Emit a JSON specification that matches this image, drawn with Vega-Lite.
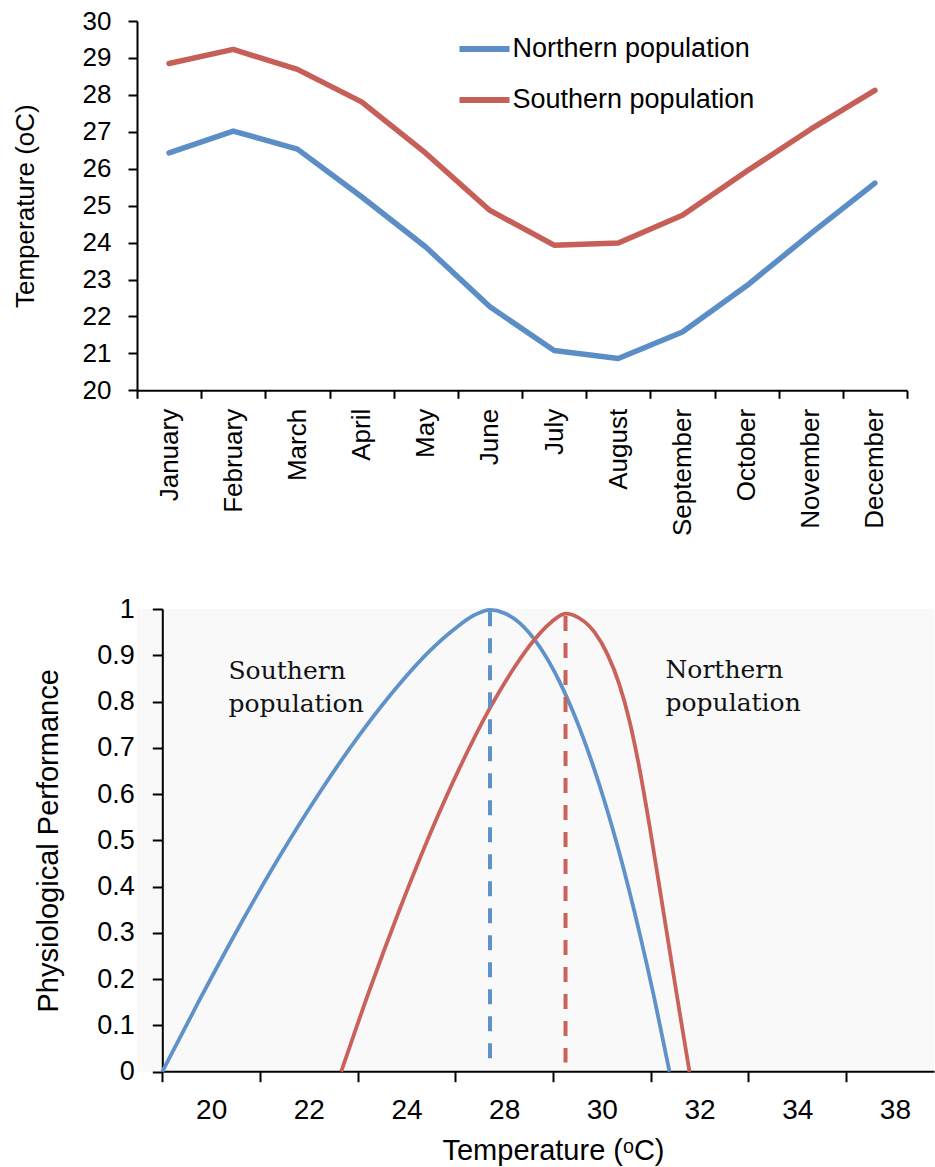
{
  "$schema": "https://vega.github.io/schema/vega-lite/v6.json",
  "padding": {"left": 12, "top": 8, "right": 0, "bottom": 0},
  "autosize": {"type": "pad"},
  "background": "white",
  "config": {
    "font": "Liberation Sans",
    "view": {"stroke": null},
    "axis": {"domainColor": "black", "tickColor": "black", "labelColor": "black", "titleColor": "black", "domainWidth": 2, "tickWidth": 2, "grid": false, "titleFontWeight": "normal"}
  },
  "datasets": {
    "monthly": [
      {"month": "January", "population": "Northern population", "temp": 26.43},
      {"month": "February", "population": "Northern population", "temp": 27.02},
      {"month": "March", "population": "Northern population", "temp": 26.53},
      {"month": "April", "population": "Northern population", "temp": 25.24},
      {"month": "May", "population": "Northern population", "temp": 23.88},
      {"month": "June", "population": "Northern population", "temp": 22.26},
      {"month": "July", "population": "Northern population", "temp": 21.08},
      {"month": "August", "population": "Northern population", "temp": 20.86},
      {"month": "September", "population": "Northern population", "temp": 21.58},
      {"month": "October", "population": "Northern population", "temp": 22.83},
      {"month": "November", "population": "Northern population", "temp": 24.24},
      {"month": "December", "population": "Northern population", "temp": 25.61},
      {"month": "January", "population": "Southern population", "temp": 28.85},
      {"month": "February", "population": "Southern population", "temp": 29.23},
      {"month": "March", "population": "Southern population", "temp": 28.69},
      {"month": "April", "population": "Southern population", "temp": 27.81},
      {"month": "May", "population": "Southern population", "temp": 26.42},
      {"month": "June", "population": "Southern population", "temp": 24.87},
      {"month": "July", "population": "Southern population", "temp": 23.93},
      {"month": "August", "population": "Southern population", "temp": 23.99},
      {"month": "September", "population": "Southern population", "temp": 24.74},
      {"month": "October", "population": "Southern population", "temp": 25.93},
      {"month": "November", "population": "Southern population", "temp": 27.07},
      {"month": "December", "population": "Southern population", "temp": 28.12}
    ],
    "curves": [
      {"curve": "Southern population", "t": 19.0, "perf": 0},
      {"curve": "Southern population", "t": 19.762, "perf": 0.155},
      {"curve": "Southern population", "t": 20.581, "perf": 0.315},
      {"curve": "Southern population", "t": 21.4, "perf": 0.465},
      {"curve": "Southern population", "t": 22.219, "perf": 0.603},
      {"curve": "Southern population", "t": 23.038, "perf": 0.728},
      {"curve": "Southern population", "t": 23.857, "perf": 0.838},
      {"curve": "Southern population", "t": 24.471, "perf": 0.909},
      {"curve": "Southern population", "t": 24.983, "perf": 0.957},
      {"curve": "Southern population", "t": 25.392, "perf": 0.987},
      {"curve": "Southern population", "t": 25.71, "perf": 0.998},
      {"curve": "Southern population", "t": 26.007, "perf": 0.991},
      {"curve": "Southern population", "t": 26.314, "perf": 0.97},
      {"curve": "Southern population", "t": 26.723, "perf": 0.919},
      {"curve": "Southern population", "t": 27.133, "perf": 0.843},
      {"curve": "Southern population", "t": 27.542, "perf": 0.743},
      {"curve": "Southern population", "t": 27.952, "perf": 0.619},
      {"curve": "Southern population", "t": 28.361, "perf": 0.472},
      {"curve": "Southern population", "t": 28.771, "perf": 0.3},
      {"curve": "Southern population", "t": 29.078, "perf": 0.157},
      {"curve": "Southern population", "t": 29.385, "perf": 0},
      {"curve": "Northern population", "t": 22.663, "perf": 0},
      {"curve": "Northern population", "t": 23.242, "perf": 0.176},
      {"curve": "Northern population", "t": 23.857, "perf": 0.35},
      {"curve": "Northern population", "t": 24.471, "perf": 0.511},
      {"curve": "Northern population", "t": 25.085, "perf": 0.656},
      {"curve": "Northern population", "t": 25.699, "perf": 0.784},
      {"curve": "Northern population", "t": 26.211, "perf": 0.874},
      {"curve": "Northern population", "t": 26.621, "perf": 0.934},
      {"curve": "Northern population", "t": 26.969, "perf": 0.972},
      {"curve": "Northern population", "t": 27.256, "perf": 0.99},
      {"curve": "Northern population", "t": 27.542, "perf": 0.98},
      {"curve": "Northern population", "t": 27.849, "perf": 0.95},
      {"curve": "Northern population", "t": 28.116, "perf": 0.902},
      {"curve": "Northern population", "t": 28.361, "perf": 0.836},
      {"curve": "Northern population", "t": 28.566, "perf": 0.758},
      {"curve": "Northern population", "t": 28.771, "perf": 0.655},
      {"curve": "Northern population", "t": 28.975, "perf": 0.532},
      {"curve": "Northern population", "t": 29.18, "perf": 0.399},
      {"curve": "Northern population", "t": 29.385, "perf": 0.264},
      {"curve": "Northern population", "t": 29.59, "perf": 0.13},
      {"curve": "Northern population", "t": 29.794, "perf": 0}
    ],
    "optima": [
      {"curve": "Southern population", "t": 25.71, "top": 0.995, "bottom": 0.02},
      {"curve": "Northern population", "t": 27.256, "top": 0.985, "bottom": 0.02}
    ],
    "labels": [
      {"curve": "Southern population", "label": "Southern\npopulation", "t": 20.355, "perf": 0.8495},
      {"curve": "Northern population", "label": "Northern\npopulation", "t": 29.303, "perf": 0.85}
    ],
    "baseline": [
      {"t0": 19, "t1": 34.811, "perf": 0}
    ]
  },
  "spacing": 59,
  "resolve": {"scale": {"color": "independent", "x": "independent", "y": "independent"}},
  "vconcat": [
    {
      "width": 770,
      "height": 369.3,
      "data": {"name": "monthly"},
      "mark": {"type": "line", "strokeWidth": 5.5, "strokeCap": "round", "strokeJoin": "round"},
      "encoding": {
        "x": {
          "field": "month", "type": "ordinal",
          "sort": ["January", "February", "March", "April", "May", "June", "July", "August", "September", "October", "November", "December"],
          "scale": {"type": "band", "paddingInner": 0, "paddingOuter": 0},
          "axis": {"title": null, "labelAngle": -90, "labelAlign": "right", "labelBaseline": "middle", "tickBand": "extent", "labelFontSize": 26, "labelPadding": 10, "tickSize": 8}
        },
        "y": {
          "field": "temp", "type": "quantitative",
          "scale": {"domain": [20, 30], "zero": false, "nice": false},
          "axis": {"values": [20, 21, 22, 23, 24, 25, 26, 27, 28, 29, 30], "title": "Temperature (oC)", "titleFontSize": 26, "titlePadding": 44, "labelFontSize": 26, "labelPadding": 17, "tickSize": 9}
        },
        "color": {
          "field": "population", "type": "nominal",
          "scale": {"domain": ["Northern population", "Southern population"], "range": ["#5b8ec6", "#c65f58"]},
          "legend": {"orient": "none", "legendX": 319.5, "legendY": 0, "title": null, "padding": 0, "symbolType": "stroke", "symbolSize": 2500, "symbolStrokeWidth": 6, "labelFontSize": 27, "labelOffset": 0, "labelLimit": 0, "rowPadding": 10, "labelColor": "black"}
        }
      }
    },
    {
      "width": 797.5,
      "height": 462.7,
      "view": {"fill": "#f9f9fa", "stroke": null},
      "layer": [
        {
          "data": {"name": "baseline"},
          "mark": {"type": "rule", "color": "black", "strokeWidth": 2},
          "encoding": {
            "x": {"field": "t0", "type": "quantitative"},
            "x2": {"field": "t1"},
            "y": {"field": "perf", "type": "quantitative"}
          }
        },
        {
          "data": {"name": "curves"},
          "mark": {"type": "line", "strokeWidth": 3.8, "interpolate": "monotone"},
          "encoding": {
            "x": {
              "field": "t", "type": "quantitative",
              "scale": {"domain": [18.482, 34.811], "nice": false, "zero": false},
              "axis": {
                "values": [19, 21, 23, 25, 27, 29, 31, 33],
                "labelExpr": "datum.value == 19 ? '20' : datum.value == 21 ? '22' : datum.value == 23 ? '24' : datum.value == 25 ? '28' : datum.value == 27 ? '30' : datum.value == 29 ? '32' : datum.value == 31 ? '34' : '38'",
                "labelOffset": 48.84, "labelFlush": false, "labelOverlap": false, "labelBound": false,
                "domain": false, "tickSize": 10, "labelFontSize": 28, "labelPadding": 15,
                "title": "Temperature (ᵒC)", "titleFontSize": 29, "titleX": 416, "titlePadding": 12
              }
            },
            "y": {
              "field": "perf", "type": "quantitative",
              "scale": {"domain": [0, 1], "nice": false},
              "axis": {"values": [0, 0.1, 0.2, 0.3, 0.4, 0.5, 0.6, 0.7, 0.8, 0.9, 1], "format": "~g", "offset": -25.3, "tickSize": 10, "labelFontSize": 27, "labelPadding": 18, "title": "Physiological Performance", "titleFontSize": 29, "titlePadding": 33}
            },
            "color": {
              "field": "curve", "type": "nominal",
              "scale": {"domain": ["Southern population", "Northern population"], "range": ["#5f92c8", "#c9625b"]},
              "legend": null
            }
          }
        },
        {
          "data": {"name": "optima"},
          "mark": {"type": "rule", "strokeWidth": 4, "strokeDash": [15, 12]},
          "encoding": {
            "x": {"field": "t", "type": "quantitative"},
            "y": {"field": "top", "type": "quantitative"},
            "y2": {"field": "bottom"},
            "color": {"field": "curve", "type": "nominal", "legend": null}
          }
        },
        {
          "data": {"name": "labels"},
          "mark": {"type": "text", "align": "left", "baseline": "alphabetic", "font": "DejaVu Serif", "fontSize": 25, "lineBreak": "\n", "lineHeight": 33, "color": "#111111"},
          "encoding": {
            "x": {"field": "t", "type": "quantitative"},
            "y": {"field": "perf", "type": "quantitative"},
            "text": {"field": "label"}
          }
        }
      ]
    }
  ]
}
